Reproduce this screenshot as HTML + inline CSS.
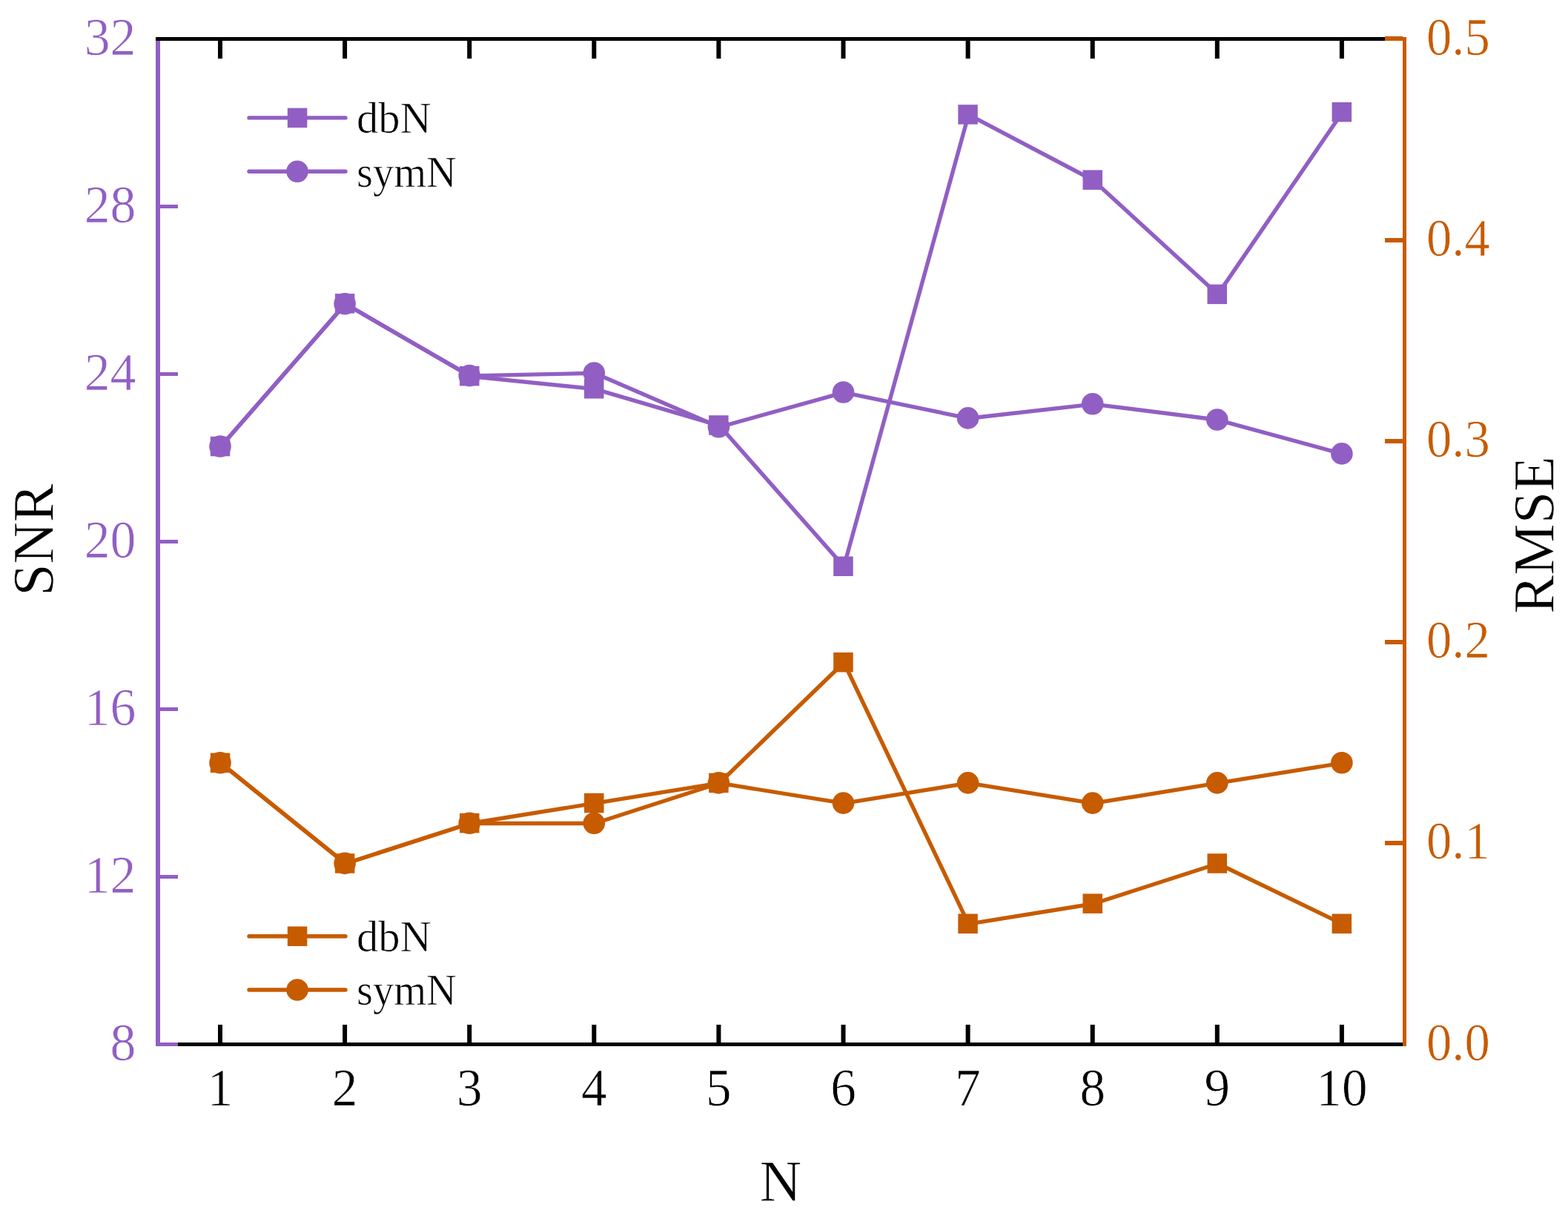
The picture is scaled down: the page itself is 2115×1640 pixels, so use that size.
<!DOCTYPE html>
<html><head><meta charset="utf-8"><title>SNR and RMSE vs N</title>
<style>html,body{margin:0;padding:0;background:#fff;}svg{display:block;}</style>
</head><body>
<svg width="2115" height="1640" viewBox="0 0 2115 1640">
<rect width="2115" height="1640" fill="#fff"/>
<polyline points="297.8,602.3 465.9,409.6 634.0,507.5 802.1,524.6 970.2,573.8 1138.3,764.0 1306.4,154.7 1474.5,243.0 1642.6,397.1 1810.7,151.5" fill="none" stroke="#915FC3" stroke-width="5.4" stroke-linejoin="round"/>
<rect x="283.8" y="588.8" width="26.5" height="26.5" fill="#915FC3"/>
<rect x="451.9" y="396.1" width="26.5" height="26.5" fill="#915FC3"/>
<rect x="620.0" y="493.9" width="26.5" height="26.5" fill="#915FC3"/>
<rect x="788.0" y="511.0" width="26.5" height="26.5" fill="#915FC3"/>
<rect x="956.1" y="560.2" width="26.5" height="26.5" fill="#915FC3"/>
<rect x="1124.2" y="750.5" width="26.5" height="26.5" fill="#915FC3"/>
<rect x="1292.3" y="141.2" width="26.5" height="26.5" fill="#915FC3"/>
<rect x="1460.5" y="229.4" width="26.5" height="26.5" fill="#915FC3"/>
<rect x="1628.5" y="383.6" width="26.5" height="26.5" fill="#915FC3"/>
<rect x="1796.6" y="137.9" width="26.5" height="26.5" fill="#915FC3"/>
<polyline points="297.8,602.3 465.9,410.0 634.0,506.9 802.1,503.3 970.2,576.0 1138.3,529.3 1306.4,564.2 1474.5,545.1 1642.6,566.3 1810.7,612.2" fill="none" stroke="#915FC3" stroke-width="5.4" stroke-linejoin="round"/>
<circle cx="297.0" cy="602.0" r="14.8" fill="#915FC3"/>
<circle cx="465.1" cy="409.7" r="14.8" fill="#915FC3"/>
<circle cx="633.2" cy="506.6" r="14.8" fill="#915FC3"/>
<circle cx="801.3" cy="503.0" r="14.8" fill="#915FC3"/>
<circle cx="969.4" cy="575.7" r="14.8" fill="#915FC3"/>
<circle cx="1137.5" cy="529.0" r="14.8" fill="#915FC3"/>
<circle cx="1305.6" cy="563.9" r="14.8" fill="#915FC3"/>
<circle cx="1473.7" cy="544.8" r="14.8" fill="#915FC3"/>
<circle cx="1641.8" cy="566.0" r="14.8" fill="#915FC3"/>
<circle cx="1809.9" cy="611.9" r="14.8" fill="#915FC3"/>
<polyline points="297.8,1029.1 465.9,1164.7 634.0,1110.5 802.1,1083.4 970.2,1056.2 1138.3,893.5 1306.4,1246.1 1474.5,1219.0 1642.6,1164.7 1810.7,1246.1" fill="none" stroke="#C75B00" stroke-width="5.4" stroke-linejoin="round"/>
<rect x="283.8" y="1015.6" width="26.5" height="26.5" fill="#C75B00"/>
<rect x="451.9" y="1151.2" width="26.5" height="26.5" fill="#C75B00"/>
<rect x="620.0" y="1096.9" width="26.5" height="26.5" fill="#C75B00"/>
<rect x="788.0" y="1069.8" width="26.5" height="26.5" fill="#C75B00"/>
<rect x="956.1" y="1042.7" width="26.5" height="26.5" fill="#C75B00"/>
<rect x="1124.2" y="880.0" width="26.5" height="26.5" fill="#C75B00"/>
<rect x="1292.3" y="1232.5" width="26.5" height="26.5" fill="#C75B00"/>
<rect x="1460.5" y="1205.4" width="26.5" height="26.5" fill="#C75B00"/>
<rect x="1628.5" y="1151.2" width="26.5" height="26.5" fill="#C75B00"/>
<rect x="1796.6" y="1232.5" width="26.5" height="26.5" fill="#C75B00"/>
<polyline points="297.8,1029.1 465.9,1164.7 634.0,1110.5 802.1,1110.5 970.2,1056.2 1138.3,1083.4 1306.4,1056.2 1474.5,1083.4 1642.6,1056.2 1810.7,1029.1" fill="none" stroke="#C75B00" stroke-width="5.4" stroke-linejoin="round"/>
<circle cx="297.0" cy="1028.8" r="14.8" fill="#C75B00"/>
<circle cx="465.1" cy="1164.4" r="14.8" fill="#C75B00"/>
<circle cx="633.2" cy="1110.2" r="14.8" fill="#C75B00"/>
<circle cx="801.3" cy="1110.2" r="14.8" fill="#C75B00"/>
<circle cx="969.4" cy="1055.9" r="14.8" fill="#C75B00"/>
<circle cx="1137.5" cy="1083.1" r="14.8" fill="#C75B00"/>
<circle cx="1305.6" cy="1055.9" r="14.8" fill="#C75B00"/>
<circle cx="1473.7" cy="1083.1" r="14.8" fill="#C75B00"/>
<circle cx="1641.8" cy="1055.9" r="14.8" fill="#C75B00"/>
<circle cx="1809.9" cy="1028.8" r="14.8" fill="#C75B00"/>
<rect x="210" y="50" width="1687" height="5" fill="#000"/>
<rect x="210" y="1406" width="1687" height="5" fill="#000"/>
<rect x="294.0" y="55" width="6" height="24" fill="#000"/>
<rect x="294.0" y="1382" width="6" height="24" fill="#000"/>
<rect x="462.1" y="55" width="6" height="24" fill="#000"/>
<rect x="462.1" y="1382" width="6" height="24" fill="#000"/>
<rect x="630.2" y="55" width="6" height="24" fill="#000"/>
<rect x="630.2" y="1382" width="6" height="24" fill="#000"/>
<rect x="798.3" y="55" width="6" height="24" fill="#000"/>
<rect x="798.3" y="1382" width="6" height="24" fill="#000"/>
<rect x="966.4" y="55" width="6" height="24" fill="#000"/>
<rect x="966.4" y="1382" width="6" height="24" fill="#000"/>
<rect x="1134.5" y="55" width="6" height="24" fill="#000"/>
<rect x="1134.5" y="1382" width="6" height="24" fill="#000"/>
<rect x="1302.6" y="55" width="6" height="24" fill="#000"/>
<rect x="1302.6" y="1382" width="6" height="24" fill="#000"/>
<rect x="1470.7" y="55" width="6" height="24" fill="#000"/>
<rect x="1470.7" y="1382" width="6" height="24" fill="#000"/>
<rect x="1638.8" y="55" width="6" height="24" fill="#000"/>
<rect x="1638.8" y="1382" width="6" height="24" fill="#000"/>
<rect x="1806.9" y="55" width="6" height="24" fill="#000"/>
<rect x="1806.9" y="1382" width="6" height="24" fill="#000"/>
<rect x="210" y="55" width="6" height="1356" fill="#915FC3"/>
<rect x="216" y="276.0" width="24" height="5" fill="#915FC3"/>
<rect x="216" y="502.0" width="24" height="5" fill="#915FC3"/>
<rect x="216" y="728.0" width="24" height="5" fill="#915FC3"/>
<rect x="216" y="954.0" width="24" height="5" fill="#915FC3"/>
<rect x="216" y="1180.0" width="24" height="5" fill="#915FC3"/>
<rect x="216" y="1406.0" width="24" height="5" fill="#915FC3"/>
<rect x="1892" y="50" width="5" height="1361" fill="#C75B00"/>
<rect x="1868" y="50" width="24" height="5" fill="#C75B00"/>
<rect x="1868" y="1134" width="24" height="6" fill="#C75B00"/>
<rect x="1868" y="863" width="24" height="6" fill="#C75B00"/>
<rect x="1868" y="592" width="24" height="6" fill="#C75B00"/>
<rect x="1868" y="321" width="24" height="6" fill="#C75B00"/>
<rect x="1868" y="49" width="24" height="6" fill="#C75B00"/>
<text transform="translate(183.50,73.80) scale(0.97,1)" font-size="72" fill="#915FC3" stroke="#fff" stroke-width="0.7" text-anchor="end" font-family='"Liberation Serif", "Times New Roman", serif'>32</text>
<text transform="translate(183.50,299.80) scale(0.97,1)" font-size="72" fill="#915FC3" stroke="#fff" stroke-width="0.7" text-anchor="end" font-family='"Liberation Serif", "Times New Roman", serif'>28</text>
<text transform="translate(183.50,525.80) scale(0.97,1)" font-size="72" fill="#915FC3" stroke="#fff" stroke-width="0.7" text-anchor="end" font-family='"Liberation Serif", "Times New Roman", serif'>24</text>
<text transform="translate(183.50,751.80) scale(0.97,1)" font-size="72" fill="#915FC3" stroke="#fff" stroke-width="0.7" text-anchor="end" font-family='"Liberation Serif", "Times New Roman", serif'>20</text>
<text transform="translate(183.50,977.80) scale(0.97,1)" font-size="72" fill="#915FC3" stroke="#fff" stroke-width="0.7" text-anchor="end" font-family='"Liberation Serif", "Times New Roman", serif'>16</text>
<text transform="translate(183.50,1203.80) scale(0.97,1)" font-size="72" fill="#915FC3" stroke="#fff" stroke-width="0.7" text-anchor="end" font-family='"Liberation Serif", "Times New Roman", serif'>12</text>
<text transform="translate(183.50,1429.80) scale(0.97,1)" font-size="72" fill="#915FC3" stroke="#fff" stroke-width="0.7" text-anchor="end" font-family='"Liberation Serif", "Times New Roman", serif'>8</text>
<text transform="translate(1924.00,73.50) scale(0.955,1)" font-size="72" fill="#C75B00" stroke="#fff" stroke-width="0.7" text-anchor="start" font-family='"Liberation Serif", "Times New Roman", serif'>0.5</text>
<text transform="translate(1924.00,344.70) scale(0.955,1)" font-size="72" fill="#C75B00" stroke="#fff" stroke-width="0.7" text-anchor="start" font-family='"Liberation Serif", "Times New Roman", serif'>0.4</text>
<text transform="translate(1924.00,615.90) scale(0.955,1)" font-size="72" fill="#C75B00" stroke="#fff" stroke-width="0.7" text-anchor="start" font-family='"Liberation Serif", "Times New Roman", serif'>0.3</text>
<text transform="translate(1924.00,887.10) scale(0.955,1)" font-size="72" fill="#C75B00" stroke="#fff" stroke-width="0.7" text-anchor="start" font-family='"Liberation Serif", "Times New Roman", serif'>0.2</text>
<text transform="translate(1924.00,1158.30) scale(0.955,1)" font-size="72" fill="#C75B00" stroke="#fff" stroke-width="0.7" text-anchor="start" font-family='"Liberation Serif", "Times New Roman", serif'>0.1</text>
<text transform="translate(1924.00,1429.50) scale(0.955,1)" font-size="72" fill="#C75B00" stroke="#fff" stroke-width="0.7" text-anchor="start" font-family='"Liberation Serif", "Times New Roman", serif'>0.0</text>
<text transform="translate(297.00,1491.00) scale(0.96,1)" font-size="72" fill="#000" stroke="#fff" stroke-width="0.7" text-anchor="middle" font-family='"Liberation Serif", "Times New Roman", serif'>1</text>
<text transform="translate(465.10,1491.00) scale(0.96,1)" font-size="72" fill="#000" stroke="#fff" stroke-width="0.7" text-anchor="middle" font-family='"Liberation Serif", "Times New Roman", serif'>2</text>
<text transform="translate(633.20,1491.00) scale(0.96,1)" font-size="72" fill="#000" stroke="#fff" stroke-width="0.7" text-anchor="middle" font-family='"Liberation Serif", "Times New Roman", serif'>3</text>
<text transform="translate(801.30,1491.00) scale(0.96,1)" font-size="72" fill="#000" stroke="#fff" stroke-width="0.7" text-anchor="middle" font-family='"Liberation Serif", "Times New Roman", serif'>4</text>
<text transform="translate(969.40,1491.00) scale(0.96,1)" font-size="72" fill="#000" stroke="#fff" stroke-width="0.7" text-anchor="middle" font-family='"Liberation Serif", "Times New Roman", serif'>5</text>
<text transform="translate(1137.50,1491.00) scale(0.96,1)" font-size="72" fill="#000" stroke="#fff" stroke-width="0.7" text-anchor="middle" font-family='"Liberation Serif", "Times New Roman", serif'>6</text>
<text transform="translate(1305.60,1491.00) scale(0.96,1)" font-size="72" fill="#000" stroke="#fff" stroke-width="0.7" text-anchor="middle" font-family='"Liberation Serif", "Times New Roman", serif'>7</text>
<text transform="translate(1473.70,1491.00) scale(0.96,1)" font-size="72" fill="#000" stroke="#fff" stroke-width="0.7" text-anchor="middle" font-family='"Liberation Serif", "Times New Roman", serif'>8</text>
<text transform="translate(1641.80,1491.00) scale(0.96,1)" font-size="72" fill="#000" stroke="#fff" stroke-width="0.7" text-anchor="middle" font-family='"Liberation Serif", "Times New Roman", serif'>9</text>
<text transform="translate(1809.90,1491.00) scale(0.96,1)" font-size="72" fill="#000" stroke="#fff" stroke-width="0.7" text-anchor="middle" font-family='"Liberation Serif", "Times New Roman", serif'>10</text>
<text transform="translate(1053.00,1619.00)" font-size="78" fill="#000" stroke="#fff" stroke-width="0.7" text-anchor="middle" font-family='"Liberation Serif", "Times New Roman", serif'>N</text>
<text transform="translate(71.00,728.00) rotate(-90)" font-size="78" fill="#000" stroke="#fff" stroke-width="0.7" text-anchor="middle" font-family='"Liberation Serif", "Times New Roman", serif'>SNR</text>
<text transform="translate(2095.00,721.50) rotate(-90)" font-size="78" fill="#000" stroke="#fff" stroke-width="0.7" text-anchor="middle" font-family='"Liberation Serif", "Times New Roman", serif'>RMSE</text>
<line x1="336" y1="158.9" x2="466" y2="158.9" stroke="#915FC3" stroke-width="5.4" stroke-linecap="round"/>
<rect x="387.8" y="145.7" width="26.5" height="26.5" fill="#915FC3"/>
<text transform="translate(481.00,179.10)" font-size="58.5" fill="#000" stroke="#fff" stroke-width="0.7" text-anchor="start" font-family='"Liberation Serif", "Times New Roman", serif'>dbN</text>
<line x1="336" y1="231.3" x2="466" y2="231.3" stroke="#915FC3" stroke-width="5.4" stroke-linecap="round"/>
<circle cx="401" cy="231.3" r="14.8" fill="#915FC3"/>
<text transform="translate(481.00,251.50) scale(0.965,1)" font-size="58.5" fill="#000" stroke="#fff" stroke-width="0.7" text-anchor="start" font-family='"Liberation Serif", "Times New Roman", serif'>symN</text>
<line x1="336" y1="1262.8" x2="466" y2="1262.8" stroke="#C75B00" stroke-width="5.4" stroke-linecap="round"/>
<rect x="387.8" y="1249.5" width="26.5" height="26.5" fill="#C75B00"/>
<text transform="translate(481.00,1283.00)" font-size="58.5" fill="#000" stroke="#fff" stroke-width="0.7" text-anchor="start" font-family='"Liberation Serif", "Times New Roman", serif'>dbN</text>
<line x1="336" y1="1335" x2="466" y2="1335" stroke="#C75B00" stroke-width="5.4" stroke-linecap="round"/>
<circle cx="401" cy="1335" r="14.8" fill="#C75B00"/>
<text transform="translate(481.00,1355.20) scale(0.965,1)" font-size="58.5" fill="#000" stroke="#fff" stroke-width="0.7" text-anchor="start" font-family='"Liberation Serif", "Times New Roman", serif'>symN</text>
</svg>
</body></html>
